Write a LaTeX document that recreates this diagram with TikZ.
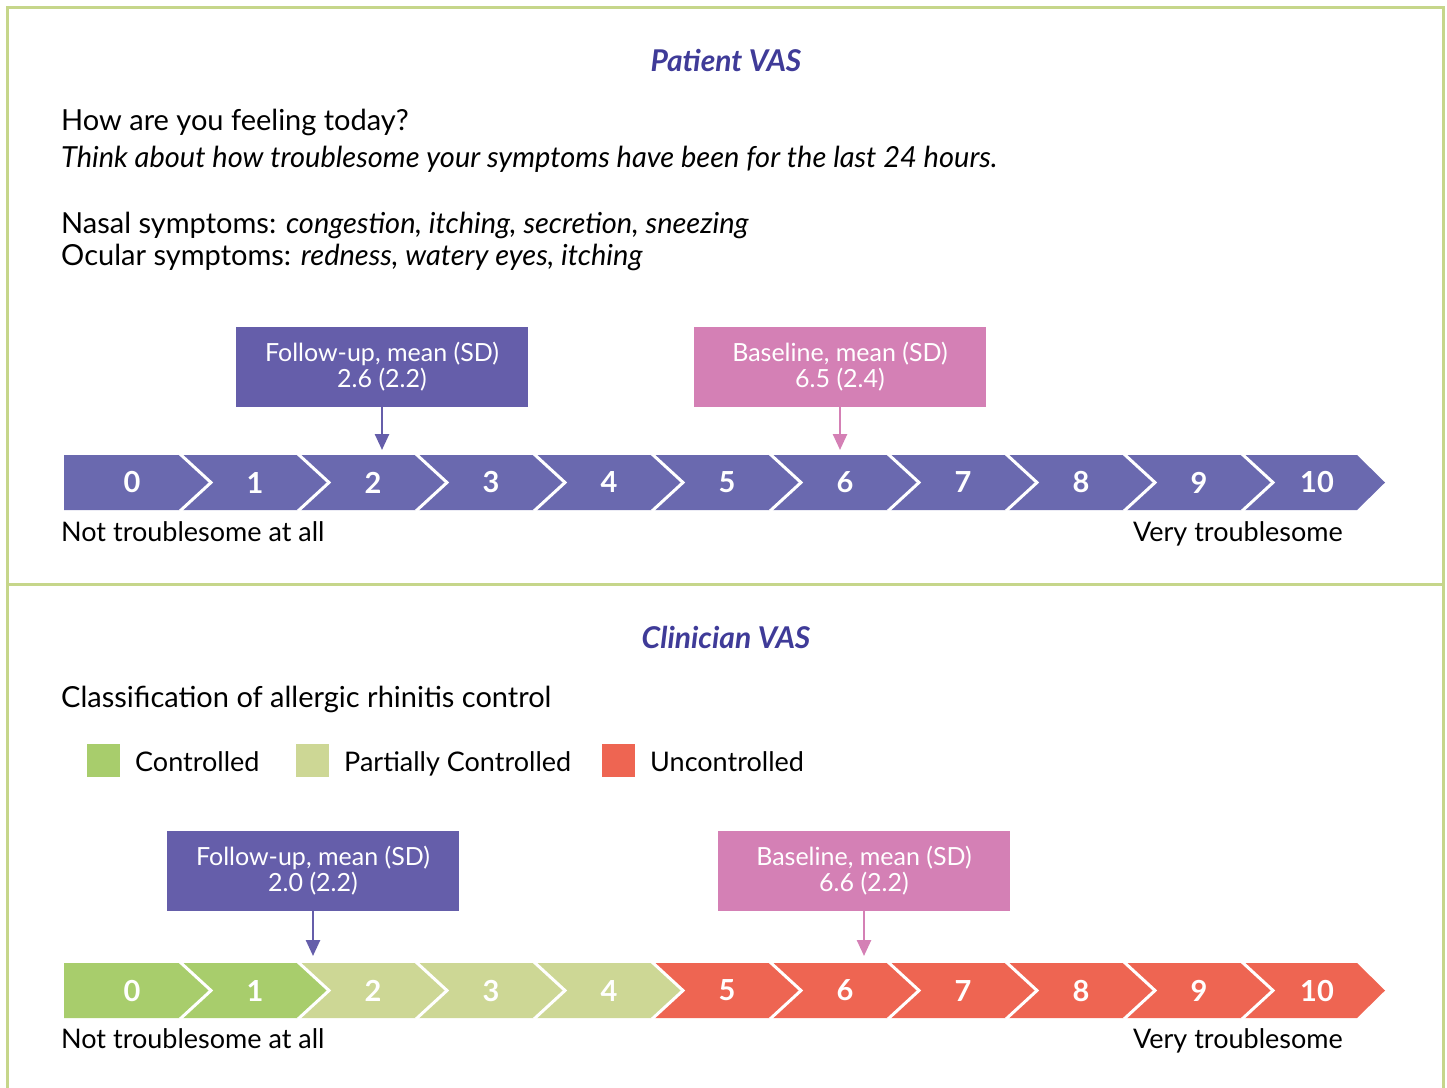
\documentclass[tikz,border=0pt]{standalone}
\usepackage{fontspec}
\setmainfont{Lato}
\usetikzlibrary{arrows.meta}
\definecolor{bordergreen}{HTML}{C6D68A}
\definecolor{barpurple}{HTML}{6A69AF}
\definecolor{boxpurple}{HTML}{655EAA}
\definecolor{boxpink}{HTML}{D480B5}
\definecolor{titleblue}{HTML}{3F3B98}
\definecolor{ctrl}{HTML}{A8CD6C}
\definecolor{pctrl}{HTML}{CDD795}
\definecolor{unctrl}{HTML}{EE6552}
\tikzset{
  body/.style={anchor=base west, inner sep=0pt, font=\fontsize{29}{34}\selectfont, text=black},
  small/.style={anchor=base west, inner sep=0pt, font=\fontsize{27}{32}\selectfont, text=black},
  titletext/.style={inner sep=0pt, font=\fontsize{30}{34}\selectfont\bfseries\itshape, text=titleblue},
  numtext/.style={inner sep=0pt, font=\fontsize{29}{30}\selectfont\bfseries, text=white},
  valbox/.style={minimum width=292pt, minimum height=80pt, inner sep=0pt, align=center, text=white, font=\fontsize{25}{26}\selectfont},
  legsq/.style={minimum size=33pt, inner sep=0pt},
  sep/.style={white, line width=3pt},
  pointer/.style={line width=2.5pt, -{Triangle[length=16pt,width=14pt]}}
}
\begin{document}
\begin{tikzpicture}[x=1pt,y=-1pt]
\useasboundingbox (0,0) rectangle (1447,1087);
% frame
\draw[bordergreen, line width=3pt] (7,1095) -- (7,7) -- (1443,7) -- (1443,1095);
\draw[bordergreen, line width=3pt] (7,584) -- (1443,584);

% ---------------- Patient VAS ----------------
\node[titletext] (ptitle) at (726,60) {Patient VAS};
\node[body] (q1) at (61,130) {How are you feeling today?};
\node[body] (q2) at (61,167) {\itshape Think about how troublesome your symptoms have been for the last 24 hours.};
\node[body] (nasal) at (61,233) {Nasal symptoms: \itshape congestion, itching, secretion, sneezing};
\node[body] (ocular) at (61,265) {Ocular symptoms: \itshape redness, watery eyes, itching};

% bar 1
\foreach \k in {0,...,10}{
  \pgfmathsetmacro\L{(\k==0)?64:62+118*\k}
  \pgfmathsetmacro\dl{(\k==0)?0:31}
  \pgfmathsetmacro\R{(\k==10)?1357:180+118*\k}
  \pgfmathsetmacro\dr{(\k==10)?28:31}
  \fill[barpurple] (\L,455) -- (\R,455) -- (\R+\dr,482.5) -- (\R,510) -- (\L,510) -- (\L+\dl,482.5) -- cycle;
}
\foreach \k in {0,...,9}{
  \draw[sep] (180+118*\k,454) -- (211+118*\k,482.5) -- (180+118*\k,511);
}
\foreach \k in {0,...,10}{
  \pgfmathsetmacro\X{(\k==0)?132:137+118*\k}
  \node[numtext] (pn\k) at (\X,482.5) {\k};
}
\node[small] (plo) at (61,541) {Not troublesome at all};
\node[small, anchor=base east] (phi) at (1343,541) {Very troublesome};

\node[valbox, fill=boxpurple] (pfu) at (382,366.5) {Follow-up, mean (SD)\\2.6 (2.2)};
\node[valbox, fill=boxpink] (pbl) at (840,366.5) {Baseline, mean (SD)\\6.5 (2.4)};
\coordinate (pfua) at (382,450);
\coordinate (pbla) at (840,450);
\draw[pointer, boxpurple] (pfu.south) -- (pfua);
\draw[pointer, boxpink] (pbl.south) -- (pbla);

% ---------------- Clinician VAS ----------------
\node[titletext] (ctitle) at (726,637) {Clinician VAS};
\node[body] (cq) at (61,707) {Classification of allergic rhinitis control};
\node[legsq, fill=ctrl] (lg1) at (103,760.5) {};
\node[small] (lt1) at (135,771) {Controlled};
\node[legsq, fill=pctrl] (lg2) at (312,760.5) {};
\node[small] (lt2) at (344,771) {Partially Controlled};
\node[legsq, fill=unctrl] (lg3) at (618,760.5) {};
\node[small] (lt3) at (650,771) {Uncontrolled};

% bar 2
\foreach \k/\col in {0/ctrl,1/ctrl,2/pctrl,3/pctrl,4/pctrl,5/unctrl,6/unctrl,7/unctrl,8/unctrl,9/unctrl,10/unctrl}{
  \pgfmathsetmacro\L{(\k==0)?64:62+118*\k}
  \pgfmathsetmacro\dl{(\k==0)?0:31}
  \pgfmathsetmacro\R{(\k==10)?1357:180+118*\k}
  \pgfmathsetmacro\dr{(\k==10)?28:31}
  \fill[\col] (\L,963) -- (\R,963) -- (\R+\dr,990.5) -- (\R,1018) -- (\L,1018) -- (\L+\dl,990.5) -- cycle;
}
\foreach \k in {0,...,9}{
  \draw[sep] (180+118*\k,962) -- (211+118*\k,990.5) -- (180+118*\k,1019);
}
\foreach \k in {0,...,10}{
  \pgfmathsetmacro\X{(\k==0)?132:137+118*\k}
  \node[numtext] (cn\k) at (\X,990.5) {\k};
}
\node[small] (clo) at (61,1048) {Not troublesome at all};
\node[small, anchor=base east] (chi) at (1343,1048) {Very troublesome};

\node[valbox, fill=boxpurple] (cfu) at (313,871) {Follow-up, mean (SD)\\2.0 (2.2)};
\node[valbox, fill=boxpink] (cbl) at (864,871) {Baseline, mean (SD)\\6.6 (2.2)};
\coordinate (cfua) at (313,956);
\coordinate (cbla) at (864,956);
\draw[pointer, boxpurple] (cfu.south) -- (cfua);
\draw[pointer, boxpink] (cbl.south) -- (cbla);
\end{tikzpicture}
\end{document}
